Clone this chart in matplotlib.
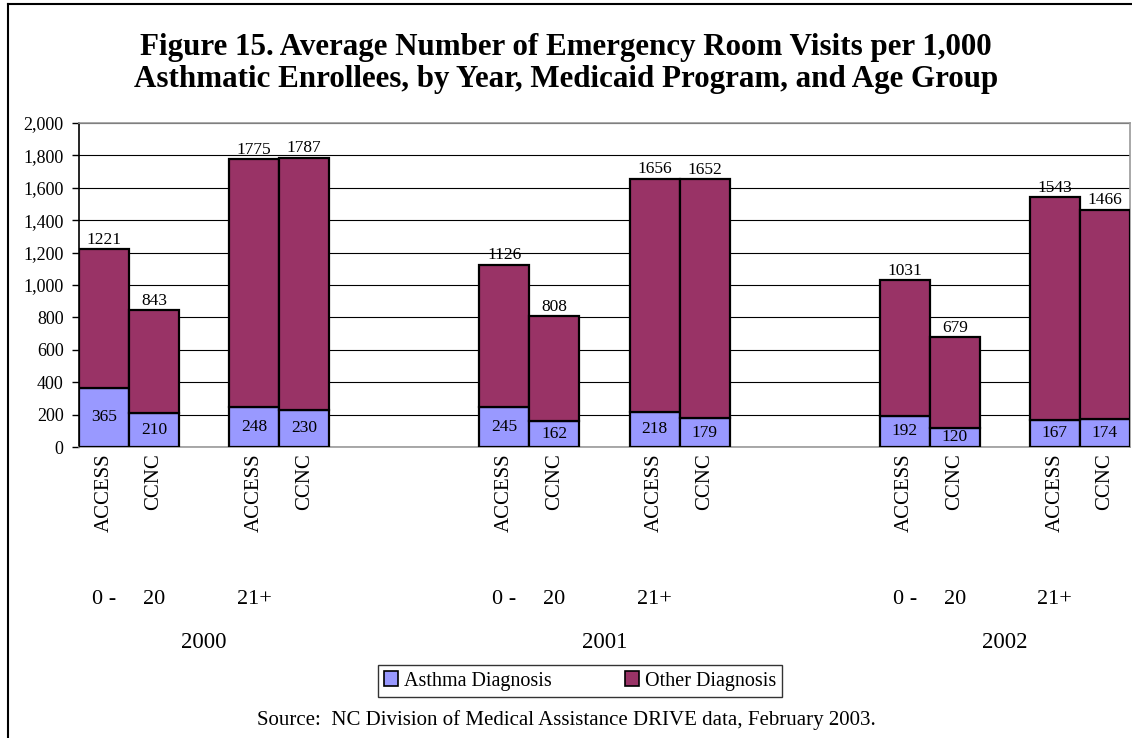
import matplotlib.pyplot as plt
from matplotlib.patches import Patch
from matplotlib.lines import Line2D
import numpy as np

plt.rcParams['font.family'] = ['Liberation Serif', 'DejaVu Serif']

# data -----------------------------------------------------------
years = ['2000', '2001', '2002']
ages = ['0 - 20', '21+']
programs = ['ACCESS', 'CCNC', 'ACCESS', 'CCNC'] * 3
asthma = [365, 210, 248, 230, 245, 162, 218, 179, 192, 120, 167, 174]
totals = [1221, 843, 1775, 1787, 1126, 808, 1656, 1652, 1031, 679, 1543, 1466]
other = [t - a for t, a in zip(totals, asthma)]

# slot layout (one empty slot between age groups, three between years)
slots = np.array([0, 1, 3, 4, 8, 9, 11, 12, 16, 17, 19, 20])

c_asthma = '#9999FF'
c_other = '#993366'

fig = plt.figure(figsize=(11.32, 7.38), dpi=100)
ax = fig.add_axes([79/1132, 1 - 447/738, 1051/1132, 324/738])

b1 = ax.bar(slots, asthma, width=1.0, color=c_asthma, edgecolor='black', linewidth=1.6, zorder=3)
b2 = ax.bar(slots, other, width=1.0, bottom=asthma, color=c_other, edgecolor='black', linewidth=1.6, zorder=3)

ax.bar_label(b1, labels=[str(v) for v in asthma], label_type='center', fontsize=12.5)
for x, t in zip(slots, totals):
    ax.text(x, t + 8, str(t), ha='center', va='bottom', fontsize=12.5)

ax.set_xlim(-0.5, 20.5)
ax.set_ylim(0, 2000)
ax.set_yticks(np.arange(0, 2001, 200))
ax.set_yticklabels([f'{v:,}' for v in range(0, 2001, 200)], fontsize=13)
ax.yaxis.grid(True, color='black', linewidth=0.8, zorder=0)
ax.tick_params(axis='y', direction='out', length=5, width=1, pad=6)
ax.set_xticks([])
ax.spines['left'].set_color('black')
ax.spines['left'].set_linewidth(1.2)
for s in ['top', 'right', 'bottom']:
    ax.spines[s].set_color('#999999')
    ax.spines[s].set_linewidth(1.2)

# category labels
tr = ax.get_xaxis_transform()
for x, p in zip(slots, programs):
    ax.text(x, -0.02, p, rotation=90, ha='center', va='top', fontsize=15, transform=tr)
for g in range(3):
    base = slots[4 * g]
    ax.text(base, -0.472, '0 -', ha='center', va='center', fontsize=16, transform=tr)
    ax.text(base + 1, -0.472, '20', ha='center', va='center', fontsize=16, transform=tr)
    ax.text(base + 3, -0.472, ages[1], ha='center', va='center', fontsize=16, transform=tr)
    ax.text(base + 2, -0.602, years[g], ha='center', va='center', fontsize=16.5, transform=tr)

# title
fig.text(566/1132, 1 - 47/738, 'Figure 15. Average Number of Emergency Room Visits per 1,000',
         ha='center', va='center', fontsize=22.3, fontweight='bold')
fig.text(566/1132, 1 - 79/738, 'Asthmatic Enrollees, by Year, Medicaid Program, and Age Group',
         ha='center', va='center', fontsize=22.3, fontweight='bold')

# legend
handles = [Patch(facecolor=c_asthma, edgecolor='black', linewidth=1.2),
           Patch(facecolor=c_other, edgecolor='black', linewidth=1.2)]
leg = fig.legend(handles, ['Asthma Diagnosis', 'Other Diagnosis'], loc='center',
                 bbox_to_anchor=(580/1132, 1 - 681/738), ncol=2, fontsize=14.5,
                 frameon=True, fancybox=False, edgecolor='black', handlelength=0.7,
                 handleheight=0.7, handletextpad=0.3, columnspacing=3.6,
                 borderpad=0.3, borderaxespad=0)
leg.get_frame().set_linewidth(1.0)

fig.text(566/1132, 1 - 720/738,
         'Source:  NC Division of Medical Assistance DRIVE data, February 2003.',
         ha='center', va='center', fontsize=15)

# outer border (left and top)
fig.add_artist(Line2D([8/1132, 8/1132], [0, 1 - 4/738], color='black', linewidth=1.5,
                      transform=fig.transFigure))
fig.add_artist(Line2D([8/1132, 1], [1 - 4/738, 1 - 4/738], color='black', linewidth=1.5,
                      transform=fig.transFigure))

fig.savefig('out.png', dpi=100)
